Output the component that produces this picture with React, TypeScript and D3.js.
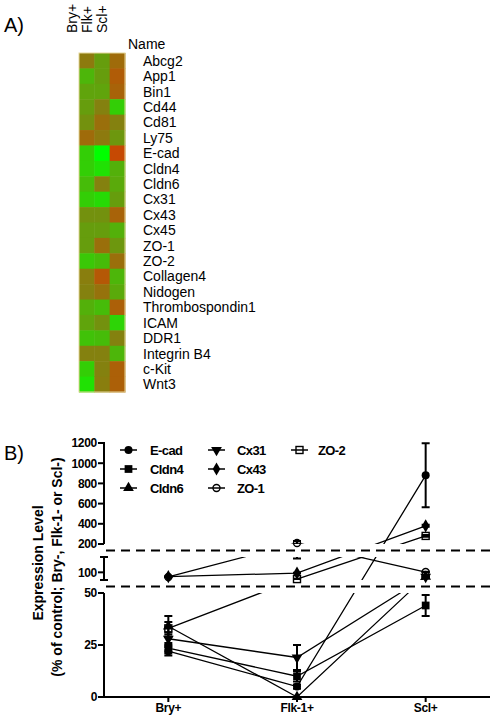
import React from "react";
import * as d3 from "d3";

// ---------- Panel A data (heatmap, log-ratio style values: - green, + red) ----------
const genes = [
  "Abcg2", "App1", "Bin1", "Cd44", "Cd81", "Ly75", "E-cad", "Cldn4", "Cldn6", "Cx31", "Cx43",
  "Cx45", "ZO-1", "ZO-2", "Collagen4", "Nidogen", "Thrombospondin1", "ICAM", "DDR1",
  "Integrin B4", "c-Kit", "Wnt3",
];
const heatCols = ["Bry+", "Flk+", "Scl+"];
const bryExpr = [0.15, -0.4, -0.25, -0.2, -0.1, 0.35, -0.6, -0.6, -0.45, -0.6, -0.1, -0.2, -0.2, -0.55, 0.1, 0.05, -0.35, -0.25, -0.5, 0.05, -0.6, -0.75];
const flkExpr = [-0.2, -0.2, -0.25, 0.05, 0.3, 0.15, -1, -0.75, 0.05, -0.7, -0.1, -0.2, 0.3, -0.45, 0.6, 0.25, -0.45, -0.1, -0.45, 0.05, 0.05, 0.1];
const sclExpr = [0.35, 0.55, 0.45, -0.6, 0.05, -0.15, 0.8, -0.35, -0.3, -0.2, 0.45, -0.35, -0.15, 0.3, -0.4, -0.3, 0.5, -0.65, 0.05, -0.4, 0.5, 0.5];

// ---------- Panel B data ----------
const stages = ["Bry+", "Flk-1+", "Scl+"];
const ecadVals = [22, 5, 880];
const ecadErr = [2, 1, 317];
const cldn4Vals = [23.5, 10, 44];
const cldn4Err = [2.5, 2.5, 5];
const cldn6Vals = [34, 0, 72];
const cldn6Err = [5, 0, 2];
const cx31Vals = [28, 19, 70];
const cx31Err = [3, 6, 2];
const cx43Vals = [72, 95, 380];
const cx43Err = [2, 3, 10];
const zo1Vals = [70, 210, 102];
const zo1Err = [2, 20, 2];
const zo2Vals = [33, 56, 280];
const zo2Err = [3, 2, 8];

const topTicks = [200, 400, 600, 800, 1000, 1200];
const midTicks = [100];
const bottomTicks = [0, 25, 50];

type Shape = "circle" | "square" | "triUp" | "triDown" | "diamond" | "openCircle" | "openSquare";

const series: { name: string; vals: number[]; err: number[]; shape: Shape }[] = [
  { name: "E-cad", vals: ecadVals, err: ecadErr, shape: "circle" },
  { name: "Cldn4", vals: cldn4Vals, err: cldn4Err, shape: "square" },
  { name: "Cldn6", vals: cldn6Vals, err: cldn6Err, shape: "triUp" },
  { name: "Cx31", vals: cx31Vals, err: cx31Err, shape: "triDown" },
  { name: "Cx43", vals: cx43Vals, err: cx43Err, shape: "diamond" },
  { name: "ZO-1", vals: zo1Vals, err: zo1Err, shape: "openCircle" },
  { name: "ZO-2", vals: zo2Vals, err: zo2Err, shape: "openSquare" },
];

const FONT = "'Liberation Sans', Arial, Helvetica, sans-serif";

function Marker({ shape, cx, cy }: { shape: Shape; cx: number; cy: number }) {
  const sym = (type: d3.SymbolType, size: number) => d3.symbol().type(type).size(size)() as string;
  switch (shape) {
    case "circle":
      return <circle cx={cx} cy={cy} r={4} fill="#000" />;
    case "square":
      return <path d={sym(d3.symbolSquare, 60)} transform={`translate(${cx},${cy})`} fill="#000" />;
    case "triUp":
      return <path d={sym(d3.symbolTriangle, 50)} transform={`translate(${cx},${cy})`} fill="#000" />;
    case "triDown":
      return <path d={sym(d3.symbolTriangle, 50)} transform={`translate(${cx},${cy}) rotate(180)`} fill="#000" />;
    case "diamond":
      return <path d={sym(d3.symbolDiamond, 50)} transform={`translate(${cx},${cy})`} fill="#000" />;
    case "openCircle":
      return <circle cx={cx} cy={cy} r={3.5} fill="none" stroke="#000" strokeWidth={1.4} />;
    case "openSquare":
      return <rect x={cx - 3.5} y={cy - 3.5} width={7} height={7} fill="none" stroke="#000" strokeWidth={1.4} />;
  }
  return null;
}

export default function App() {
  // Heatmap scales
  const hx = d3.scaleBand<string>().domain(heatCols).range([79, 125]);
  const hy = d3.scaleBand<string>().domain(genes).range([53, 392]);
  const color = d3
    .scaleLinear<string>()
    .domain([-1, 0, 1])
    .range(["#00ff00", "#808510", "#d83a00"])
    .interpolate(d3.interpolateRgb);
  const heatVals = [bryExpr, flkExpr, sclExpr];

  // Broken-axis chart scales
  const x = d3.scalePoint<string>().domain(stages).range([104, 490]).padding(0.5);
  const yTop = d3.scaleLinear().domain([200, 1200]).range([544, 443]);
  const yMid = d3.scaleLinear().domain([50, 200]).range([580, 557]);
  const yBot = d3.scaleLinear().domain([0, 50]).range([697, 593]);
  const y = (v: number) => (v >= 200 ? yTop(v) : v >= 50 ? yMid(v) : yBot(v));
  const axisX = 104;

  const line = d3
    .line<number>()
    .x((_, i) => x(stages[i]) as number)
    .y((v) => y(v));

  const legendCols = [
    { lx: 120, tx: 150, items: [0, 1, 2] },
    { lx: 208, tx: 237, items: [3, 4, 5] },
    { lx: 291, tx: 318, items: [6] },
  ];
  const legendRows = [450, 469, 488];

  return (
    <svg
      width={498}
      height={720}
      style={{ position: "absolute", left: 0, top: 0, background: "#fff" }}
      fontFamily={FONT}
    >
      <rect width={498} height={720} fill="#fff" />
      {/* ---------------- Panel A ---------------- */}
      <text x={4} y={32} fontSize={20}>A)</text>
      {heatCols.map((c) => {
        const bx = (hx(c) as number) + hx.bandwidth() / 2 - 10;
        return (
          <text key={c} transform={`translate(${bx},33) rotate(-90)`} fontSize={14}>
            {c}
          </text>
        );
      })}
      <text x={128} y={49} fontSize={14}>Name</text>
      {genes.map((g, i) => (
        <g key={g}>
          {heatCols.map((c, j) => (
            <rect
              key={c}
              x={hx(c)}
              y={hy(g)}
              width={hx.bandwidth() + 0.5}
              height={hy.bandwidth() + 0.5}
              fill={color(heatVals[j][i])}
            />
          ))}
          <text x={143} y={(hy(g) as number) + hy.bandwidth() / 2} dy="0.36em" fontSize={14}>
            {g}
          </text>
        </g>
      ))}
      <rect x={79} y={53} width={46} height={339} fill="none" stroke="#e6d79a" strokeWidth={1} />

      {/* ---------------- Panel B ---------------- */}
      <text x={4} y={460} fontSize={20}>B)</text>

      <defs>
        <clipPath id="segClip">
          <rect x={axisX} y={425} width={394} height={119} />
          <rect x={axisX} y={557} width={394} height={23} />
          <rect x={axisX} y={593} width={394} height={106} />
        </clipPath>
      </defs>

      {/* y axis segments */}
      <g stroke="#000" strokeWidth={2}>
        <line x1={axisX} x2={axisX} y1={yTop(1200) - 1} y2={yTop(200)} />
        <line x1={axisX} x2={axisX} y1={yMid(200)} y2={yMid(50)} />
        <line x1={axisX} x2={axisX} y1={yBot(50)} y2={yBot(0)} />
        <line x1={axisX - 1} x2={490} y1={yBot(0)} y2={yBot(0)} />
        {topTicks.map((t) => (
          <line key={"tt" + t} x1={axisX - 6} x2={axisX} y1={yTop(t)} y2={yTop(t)} />
        ))}
        {midTicks.map((t) => (
          <line key={"mt" + t} x1={axisX - 6} x2={axisX} y1={yMid(t)} y2={yMid(t)} />
        ))}
        {[50, 200].map((t) => (
          <line key={"cap" + t} x1={axisX - 4} x2={axisX + 4} y1={yMid(t)} y2={yMid(t)} />
        ))}
        {bottomTicks.map((t) => (
          <line key={"bt" + t} x1={axisX - 6} x2={axisX} y1={yBot(t)} y2={yBot(t)} />
        ))}
        {stages.map((s) => (
          <line key={"xt" + s} x1={x(s)} x2={x(s)} y1={yBot(0)} y2={yBot(0) + 5} />
        ))}
      </g>
      <g fontSize={12} fontWeight="bold" textAnchor="end" letterSpacing={-0.3}>
        {topTicks.map((t) => (
          <text key={"tl" + t} x={axisX - 7} y={yTop(t)} dy="0.36em">{t}</text>
        ))}
        {midTicks.map((t) => (
          <text key={"ml" + t} x={axisX - 7} y={yMid(t)} dy="0.36em">{t}</text>
        ))}
        {bottomTicks.map((t) => (
          <text key={"bl" + t} x={axisX - 7} y={yBot(t)} dy="0.36em">{t}</text>
        ))}
      </g>
      <g fontSize={12} fontWeight="bold" textAnchor="middle" letterSpacing={-0.3}>
        {stages.map((s) => (
          <text key={"xl" + s} x={x(s)} y={712}>{s}</text>
        ))}
      </g>

      {/* y title */}
      <g fontSize={14} fontWeight="bold" textAnchor="middle">
        <text transform="translate(43,563) rotate(-90)">Expression Level</text>
        <text transform="translate(62,567) rotate(-90)">(% of control; Bry-, Flk-1- or Scl-)</text>
      </g>

      {/* break lines */}
      <g stroke="#000" strokeWidth={2} strokeDasharray="9,6">
        <line x1={106} x2={495} y1={550.5} y2={550.5} />
        <line x1={106} x2={495} y1={586.5} y2={586.5} />
      </g>

      {/* data lines & error bars (clipped to axis segments) */}
      <g clipPath="url(#segClip)" stroke="#000" fill="none">
        {series.map((s) => (
          <path key={"ln" + s.name} d={line(s.vals) as string} strokeWidth={1.3} />
        ))}
        {series.map((s) =>
          s.vals.map((v, i) => {
            const e = s.err[i];
            if (!e) return null;
            const cx = x(stages[i]) as number;
            const y1 = y(v + e);
            const y2 = y(v - e);
            return (
              <g key={"eb" + s.name + i} strokeWidth={2}>
                <line x1={cx} x2={cx} y1={y1} y2={y2} />
                <line x1={cx - 4} x2={cx + 4} y1={y1} y2={y1} />
                <line x1={cx - 4} x2={cx + 4} y1={y2} y2={y2} />
              </g>
            );
          })
        )}
      </g>
      {/* markers */}
      {series.map((s) =>
        s.vals.map((v, i) => (
          <Marker key={"mk" + s.name + i} shape={s.shape} cx={x(stages[i]) as number} cy={y(v)} />
        ))
      )}

      {/* legend */}
      {legendCols.map((col, ci) =>
        col.items.map((si, ri) => {
          const s = series[si];
          const cy = legendRows[ri];
          return (
            <g key={"lg" + ci + ri}>
              <line x1={col.lx} x2={col.lx + 17} y1={cy} y2={cy} stroke="#000" strokeWidth={1.5} />
              <Marker shape={s.shape} cx={col.lx + 8.5} cy={cy} />
              <text x={col.tx} y={cy} dy="0.36em" fontSize={13} fontWeight="bold" letterSpacing={-0.6}>
                {s.name}
              </text>
            </g>
          );
        })
      )}
    </svg>
  );
}
